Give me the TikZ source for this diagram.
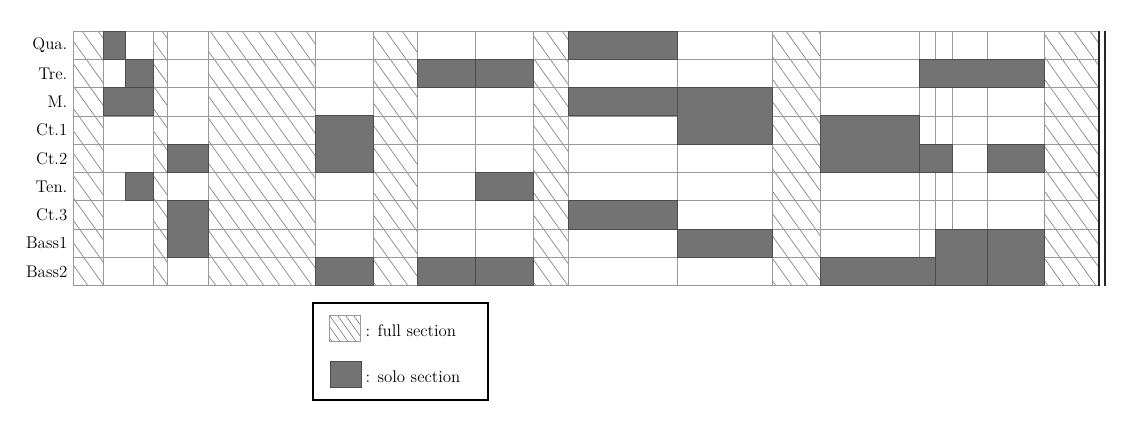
\documentclass[tikz,border=0pt]{standalone}
\begin{document}
\begin{tikzpicture}[x=0.025cm, y=-0.025cm,
  gridline/.style={draw=black!40, line width=0.5pt},
  hatchline/.style={draw=black!55, line width=0.4pt},
  solosec/.style={fill=black!55, draw=black!70, line width=0.6pt},
  rowlabel/.style={anchor=east, font=\large, inner sep=1pt},
  legtext/.style={anchor=west, font=\large, inner sep=1pt},
  swatch/.style={minimum width=0.78cm, minimum height=0.66cm, inner sep=0pt},
  fullswatch/.style={swatch, draw=black!40, path picture={
      \foreach \s in {-0.6,-0.4,...,0.8}
        \draw[hatchline] ([xshift=\s cm]path picture bounding box.north west) -- ++(0.5cm,-0.7cm);}},
  soloswatch/.style={swatch, solosec}]
  \useasboundingbox (0,0) rectangle (1135,433);
  \def\gtop{31} \def\rowh{28.3} \def\gbot{285.7}
  % full sections
  \begin{scope}
    \clip (73,\gtop) rectangle (103,\gbot) (153,\gtop) rectangle (167,\gbot)
      (208,\gtop) rectangle (315,\gbot) (373,\gtop) rectangle (417,\gbot)
      (533,\gtop) rectangle (568,\gbot) (772,\gtop) rectangle (820,\gbot)
      (1044,\gtop) rectangle (1099,\gbot);
    \foreach \s in {-190,-174,...,1100}
      \draw[hatchline] (\s,\gtop) -- ++(182,254.7);
  \end{scope}
  % grid
  \foreach \r in {0,...,9}
    \draw[gridline] (73,{\gtop+\r*\rowh}) -- (1099,{\gtop+\r*\rowh});
  \foreach \xc in {73,103,153,167,208,315,373,417,475,533,568,677,772,820,919,935,952,987,1044}
    \draw[gridline] (\xc,\gtop) -- (\xc,\gbot);
  % solo sections: x from / x to / first row / last row
  \foreach \xa/\xb/\ra/\rb in {103/125/1/1, 568/677/1/1,
      125/153/2/2, 417/475/2/2, 475/533/2/2, 919/1044/2/2,
      103/153/3/3, 568/677/3/3, 677/772/3/4,
      315/373/4/5, 820/919/4/5, 167/208/5/5, 919/952/5/5, 987/1044/5/5,
      125/153/6/6, 475/533/6/6,
      167/208/7/8, 568/677/7/7, 677/772/8/8, 935/987/8/9, 987/1044/8/9,
      315/373/9/9, 417/475/9/9, 475/533/9/9, 820/935/9/9}
    \draw[solosec] (\xa,{\gtop+(\ra-1)*\rowh}) rectangle (\xb,{\gtop+\rb*\rowh});
  % double bar
  \draw[line width=1.2pt, black!85] (1099,\gtop) -- (1099,\gbot);
  \draw[line width=1.2pt, black!85] (1105,\gtop) -- (1105,\gbot);
  % voices
  \foreach \lab [count=\i] in {Qua.,Tre.,M.,Ct.1,Ct.2,Ten.,Ct.3,Bass1,Bass2}
    \node[rowlabel] (voice\i) at (69,{\gtop+(\i-0.5)*\rowh}) {\lab};
  % legend
  \draw[line width=0.8pt] (313,303) rectangle (488,400);
  \node[fullswatch] (fullkey) at (345,328.5) {};
  \node[soloswatch] (solokey) at (346,374.5) {};
  \node[legtext] (fulltext) at (364,331) {: full section};
  \node[legtext] (solotext) at (364,377) {: solo section};
\end{tikzpicture}
\end{document}
